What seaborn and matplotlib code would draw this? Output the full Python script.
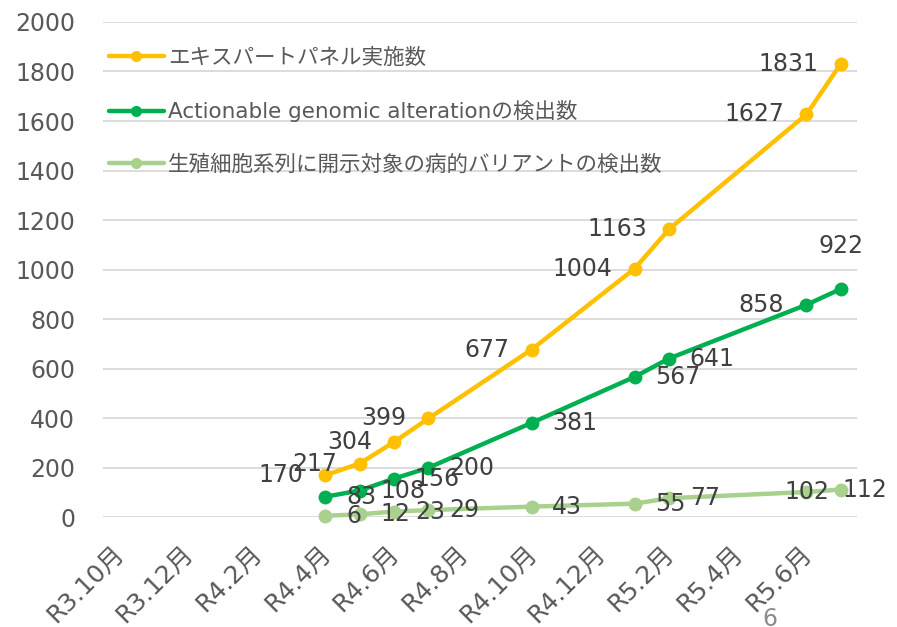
import matplotlib
matplotlib.use("Agg")
import matplotlib.pyplot as plt
import matplotlib.transforms as mtransforms
import seaborn as sns
import pandas as pd

# ---- data ----
all_months = ["R3.10", "R3.11", "R3.12", "R4.1", "R4.2", "R4.3", "R4.4", "R4.5",
              "R4.6", "R4.7", "R4.8", "R4.9", "R4.10", "R4.11", "R4.12", "R5.1",
              "R5.2", "R5.3", "R5.4", "R5.5", "R5.6", "R5.7"]
tick_labels = ["R3.10月", "R3.12月", "R4.2月", "R4.4月", "R4.6月", "R4.8月",
               "R4.10月", "R4.12月", "R5.2月", "R5.4月", "R5.6月"]
point_months = ["R4.4", "R4.5", "R4.6", "R4.7", "R4.10", "R5.1", "R5.2", "R5.6", "R5.7"]

series_names = ["エキスパートパネル実施数",
                "Actionable genomic alterationの検出数",
                "生殖細胞系列に開示対象の病的バリアントの検出数"]
expert_panel = [170, 217, 304, 399, 677, 1004, 1163, 1627, 1831]
actionable = [83, 108, 156, 200, 381, 567, 641, 858, 922]
germline = [6, 12, 23, 29, 43, 55, 77, 102, 112]

colors = ["#FFC000", "#00B050", "#A9D18E"]

# label placement (style)
pos_expert = ["left"] * 9
pos_action = ["right"] * 7 + ["left", "above"]
pos_germ = ["right"] * 7 + ["center", "right_tight"]

# ---- build frame ----
xidx = [all_months.index(m) for m in point_months]
rows = []
for name, vals in zip(series_names, [expert_panel, actionable, germline]):
    for x, v in zip(xidx, vals):
        rows.append({"x": x, "value": v, "series": name})
df = pd.DataFrame(rows)

sns.set_theme(style="white")
plt.rcParams["font.family"] = ["DejaVu Sans", "Noto Sans CJK JP"]

fig = plt.figure(figsize=(8.97, 6.27), dpi=100)
ax = fig.add_axes([0.1148, 0.175, 0.8406, 0.790])

sns.lineplot(data=df, x="x", y="value", hue="series", hue_order=series_names,
             palette=colors, marker="o", markersize=10, markeredgewidth=0,
             linewidth=3.2, ax=ax, legend=False, clip_on=False)

ax.set_xlim(-0.47, 21.47)
ax.set_ylim(0, 2000)
ax.set_yticks(range(0, 2001, 200))
ax.set_xticks([all_months.index(t.replace("月", "")) for t in tick_labels])
ax.set_xticklabels(tick_labels, rotation=45, ha="right", va="top",
                   rotation_mode="anchor")
ax.set_xlabel("")
ax.set_ylabel("")
for s in ax.spines.values():
    s.set_visible(False)
ax.yaxis.grid(True, color="#d9d9d9", linewidth=1.3)
ax.xaxis.grid(False)
ax.set_axisbelow(True)
ax.tick_params(axis="y", length=0, pad=20, labelsize=17, labelcolor="#595959")
ax.tick_params(axis="x", length=0, pad=17, labelsize=18, labelcolor="#595959")
offset = mtransforms.ScaledTranslation(-7 / 100, 0, fig.dpi_scale_trans)
for lab in ax.get_xticklabels():
    lab.set_transform(lab.get_transform() + offset)

# data labels
def place(x, v, p):
    if p == "left":
        kw = dict(xytext=(-16, 0), ha="right", va="center")
    elif p == "right":
        kw = dict(xytext=(15, 0), ha="left", va="center")
    elif p == "right_tight":
        kw = dict(xytext=(1, 0), ha="left", va="center")
    elif p == "above":
        kw = dict(xytext=(0, 31), ha="center", va="center")
    else:
        kw = dict(xytext=(0, 0), ha="center", va="center")
    ax.annotate(str(v), (x, v), textcoords="offset points", fontsize=17,
                color="#404040", annotation_clip=False, **kw)

for vals, poss in zip([expert_panel, actionable, germline], [pos_expert, pos_action, pos_germ]):
    for x, v, p in zip(xidx, vals, poss):
        place(x, v, p)

handles = ax.get_lines()[:3]
leg = ax.legend(handles, series_names, loc="upper left", bbox_to_anchor=(0.008, 0.948),
                frameon=False, fontsize=15.5, handlelength=2.55, handletextpad=0.2,
                labelspacing=1.5, borderpad=0, borderaxespad=0, markerscale=0.8)
for t in leg.get_texts():
    t.set_color("#595959")

fig.text(770 / 897, 1 - 619 / 627, "6", ha="center", va="center", fontsize=17,
         color="#8c8c8c")

fig.savefig("out.png", dpi=100)
